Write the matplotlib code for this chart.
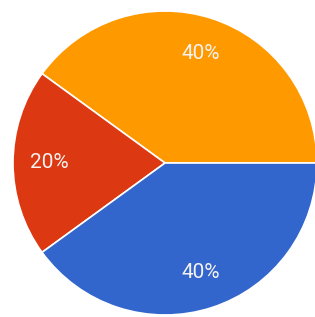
import matplotlib
matplotlib.use("Agg")
import matplotlib.pyplot as plt

labels = ["A", "B", "C"]
values = [40, 20, 40]
colors = ["#FF9900", "#DC3912", "#3366CC"]

fig = plt.figure(figsize=(3.15, 3.17), dpi=100)
ax = fig.add_axes([0, 0, 1, 1])
wedges, texts, autotexts = ax.pie(
    values, colors=colors, startangle=0, counterclock=True,
    autopct="%1.0f%%", pctdistance=0.76,
    wedgeprops=dict(edgecolor="white", linewidth=1.2),
    textprops=dict(color="#F6F2F2", fontsize=15,
                   family=["Roboto", "DejaVu Sans"]),
)
ax.set_xlim(-1.0855, 0.9868)
ax.set_ylim(-1.0132, 1.0724)
ax.set_aspect("equal")
ax.axis("off")
fig.savefig("out.png", dpi=100)
